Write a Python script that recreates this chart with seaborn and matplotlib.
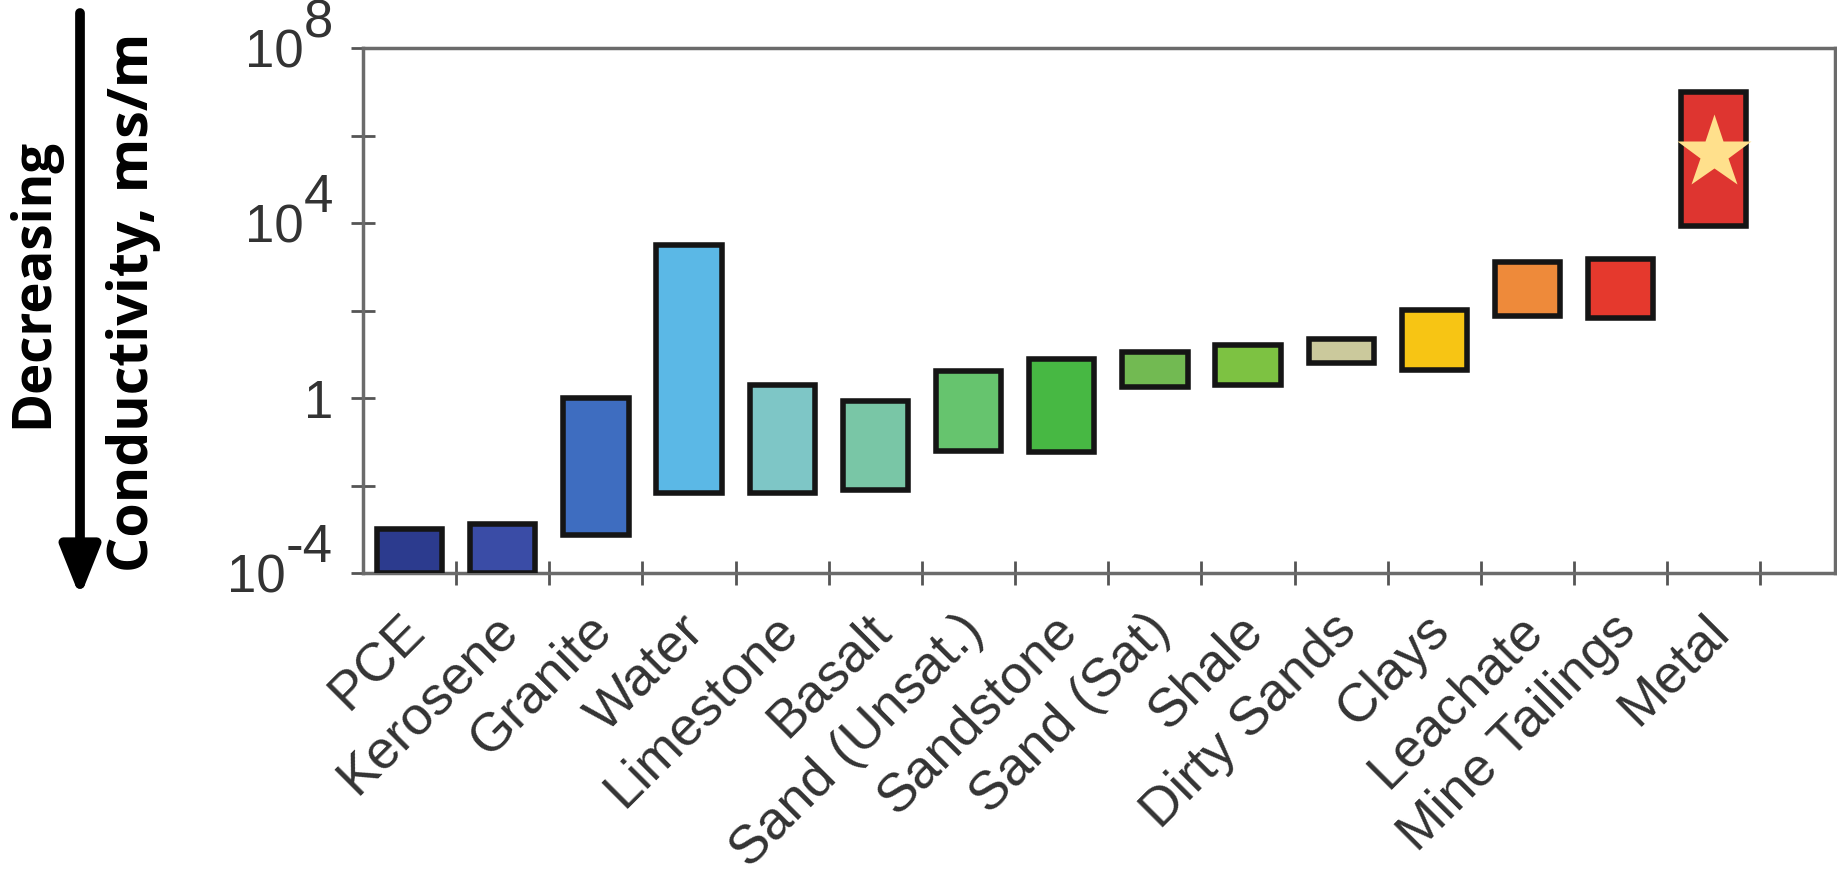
import numpy as np
import matplotlib
matplotlib.use("Agg")
import matplotlib.pyplot as plt
import matplotlib.transforms as mtransforms
from matplotlib.patches import FancyArrowPatch
from matplotlib.ticker import NullLocator
import seaborn as sns

# Conductivity ranges (ms/m)
materials = ['PCE', 'Kerosene', 'Granite', 'Water', 'Limestone', 'Basalt',
             'Sand (Unsat.)', 'Sandstone', 'Sand (Sat)', 'Shale', 'Dirty Sands',
             'Clays', 'Leachate', 'Mine Tailings', 'Metal']
cond_low = [1e-4, 1e-4, 7.4e-4, 6.8e-3, 6.8e-3, 8.1e-3, 0.06, 0.058,
            1.8, 2.0, 6.3, 4.4, 74, 68, 8.7e3]
cond_high = [1e-3, 1.35e-3, 1.0, 3.2e3, 2.0, 0.87, 4.2, 7.8,
             11, 16.6, 22, 105, 1.3e3, 1.5e3, 1e7]
bar_colors = ['#2c3b8e', '#3a4ca6', '#3e6dc0', '#5bb8e6', '#7ec6c6', '#79c6a6',
              '#66c46e', '#47b843', '#72ba52', '#7dc242', '#cbc99c',
              '#f7c514', '#ee8a3a', '#e5392d', '#de3530']
metal_star = 4e5  # highlighted value on the Metal bar

ytick_vals = [1e-4, 1, 1e4, 1e8]
ytick_base = ['10', '1', '10', '10']
ytick_exp = ['-4', '', '4', '8']

W, H, DPI = 1837, 883, 100

sns.set_theme(style='ticks')
plt.rcParams['font.family'] = ['Liberation Sans', 'DejaVu Sans']

fig = plt.figure(figsize=(W / DPI, H / DPI), dpi=DPI)
fig.patch.set_facecolor('white')
ax = fig.add_axes([363 / W, 1 - 573 / H, (1835 - 363) / W, (573 - 48) / H])
ax.set_facecolor('white')

pos = np.arange(len(materials)) + 0.5
heights = np.array(cond_high) - np.array(cond_low)
ax.bar(pos, heights, bottom=cond_low, width=0.7, color=bar_colors,
       edgecolor='#151515', linewidth=4, zorder=3)
ax.plot(pos[-1], metal_star, marker='*', ms=56, color='#ffe08c',
        mec='none', zorder=4)

ax.set_yscale('log')
ax.set_ylim(1e-4, 1e8)
ax.set_xlim(0, len(materials) + 0.8)

# x axis: labels under the bars, tick marks between them
ax.set_xticks(pos)
ax.set_xticklabels(materials, rotation=45, ha='right', fontsize=39, color='#333333')
ax.set_xticks(np.arange(1, len(materials) + 1), minor=True)
ax.tick_params(axis='x', which='major', length=0, pad=23)
ax.tick_params(axis='x', which='minor', direction='inout', length=17, width=2, color='#555555')
shift = mtransforms.ScaledTranslation(25 / DPI, 0, fig.dpi_scale_trans)
for lbl in ax.get_xticklabels():
    lbl.set_transform(lbl.get_transform() + shift)

# y axis: ticks every two decades, labels every four
ax.set_yticks([1e-4, 1e-2, 1, 1e2, 1e4, 1e6, 1e8])
ax.yaxis.set_minor_locator(NullLocator())
ax.set_yticklabels([])
ax.tick_params(axis='y', direction='inout', length=17, width=2, color='#555555')

trans = mtransforms.blended_transform_factory(ax.transAxes, ax.transData) + \
    mtransforms.ScaledTranslation(-30 / DPI, 0, fig.dpi_scale_trans)
for v, base, ex in zip(ytick_vals, ytick_base, ytick_exp):
    if ex:
        e = ax.text(0, v, ex, transform=trans, ha='right', va='bottom',
                    fontsize=38, color='#333333')
        ax.annotate(base, xy=(0, 0), xycoords=e, ha='right', va='center_baseline',
                    fontsize=38, color='#333333')
    else:
        ax.text(0, v, base, transform=trans, ha='right', va='center_baseline',
                fontsize=38, color='#333333')

for sp in ax.spines.values():
    sp.set_visible(True)
    sp.set_color('#6b6b6b')
    sp.set_linewidth(2.5)

# left side annotations
bold_font = ['Open Sans', 'DejaVu Sans']
fig.text(33 / W, 1 - 283 / H, 'Decreasing', rotation=90, fontsize=38,
         fontweight='bold', family=bold_font, ha='center', va='center', color='black')
fig.text(134 / W, 1 - 302 / H, 'Conductivity, ms/m', rotation=90, fontsize=40,
         fontweight='bold', family=bold_font, ha='center', va='center', color='black')
arrow = FancyArrowPatch((80 / W, 1 - 13 / H), (80 / W, 1 - 597 / H),
                        transform=fig.transFigure,
                        arrowstyle='-|>,head_length=0.3,head_width=0.12',
                        mutation_scale=100, lw=7, color='black',
                        shrinkA=0, shrinkB=0)
fig.add_artist(arrow)

fig.savefig('out.png', dpi=DPI)
